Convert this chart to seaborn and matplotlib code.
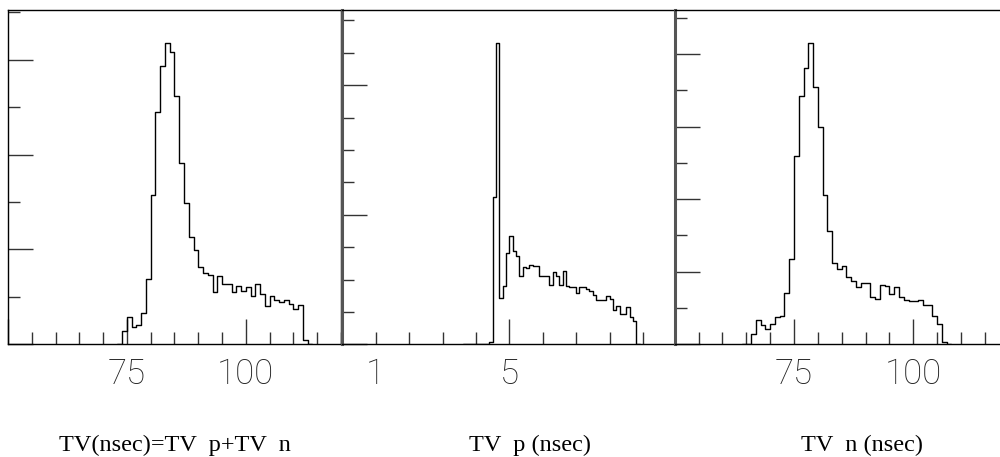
import numpy as np
import pandas as pd
import matplotlib
matplotlib.use("Agg")
import matplotlib.pyplot as plt
import seaborn as sns
from matplotlib.ticker import MultipleLocator, FixedLocator, FixedFormatter

# ---------------- data ----------------
# Panel 1: TV = TV_p + TV_n (nsec), 1 ns bins starting at 74
tv_first_bin = 74.0
tv_bin_width = 1.0
tv_counts = [27, 58, 36, 41, 67, 138, 314, 489, 586, 636, 617, 523, 382, 297,
             226, 199, 162, 151, 147, 110, 143, 127, 128, 110, 122, 113, 120,
             102, 127, 106, 81, 101, 94, 89, 94, 85, 74, 82, 9]

# Panel 2: TV_p (nsec), 0.1 ns bins starting at 3.7
tvp_first_bin = 3.7
tvp_bin_width = 0.1
tvp_counts = [2, 0, 0, 0, 0, 0, 2, 7, 456, 931, 144, 181, 281, 335, 289, 273,
              211, 240, 235, 245, 243, 242, 212, 212, 210, 183, 224, 212, 183,
              225, 181, 177, 177, 159, 177, 177, 172, 166, 152, 137, 137, 137,
              149, 139, 106, 119, 94, 94, 114, 83, 73]

# Panel 3: TV_n (nsec), 1 ns bins starting at 65
tvn_first_bin = 65.0
tvn_bin_width = 1.0
tvn_counts = [2, 29, 68, 53, 41, 55, 75, 77, 140, 235, 518, 683, 761, 830, 710,
              599, 412, 312, 225, 208, 217, 185, 175, 157, 170, 170, 130, 125,
              163, 161, 138, 159, 130, 121, 118, 118, 123, 107, 109, 79, 55, 6]

x_labels = ["TV(nsec)=TV  p+TV  n", "TV  p (nsec)", "TV  n (nsec)"]

panel_xlim = [(50, 120), (0, 10), (50, 120)]
panel_ylim = [(0, 705), (0, 1032), (0, 921)]
panel_xmajor = [[50, 75, 100], [0, 5, 10], [50, 75, 100]]
panel_xmajor_labels = [["", "75", "100"], ["", "5", ""], ["", "75", "100"]]
panel_xminor_step = [5, 1, 5]
panel_xminor_labels = [None, {1: "1"}, None]
panel_ymajor = [200, 400, 200]
panel_yminor = [100, 100, 100]

# ---------------- figure ----------------
sns.set_style("white")
W, H = 1000, 457
fig = plt.figure(figsize=(W / 100, H / 100), dpi=100)

bottom = 1 - 344.3 / H
top = 1 - 10 / H
positions = [(8, 341), (342.3, 676.3), (674.7, 1008.7)]
PX = 72 / 100  # points per pixel

data = [(tv_first_bin, tv_bin_width, tv_counts),
        (tvp_first_bin, tvp_bin_width, tvp_counts),
        (tvn_first_bin, tvn_bin_width, tvn_counts)]

for i, ((x0, x1), (start, width, counts)) in enumerate(zip(positions, data)):
    ax = fig.add_axes([x0 / W, bottom, (x1 - x0) / W, top - bottom])
    counts = np.asarray(counts, dtype=float)
    n = len(counts)
    edges = [float(v) for v in np.round(start + width * np.arange(-1, n + 2), 4)]
    centers = np.round(start + width * (np.arange(n) + 0.5), 4)
    df = pd.DataFrame({"t": centers, "w": counts})
    sns.histplot(data=df, x="t", weights="w", bins=edges, element="step",
                 fill=False, color="black", linewidth=1.0, ax=ax)
    ax.set_xlim(*panel_xlim[i])
    ax.set_ylim(*panel_ylim[i])
    ax.set_xlabel("")
    ax.set_ylabel("")

    # spines
    for side in ["top", "right", "left", "bottom"]:
        ax.spines[side].set_color("black")
        ax.spines[side].set_linewidth(1.0)
    ax.spines["right"].set_visible(i == 0)
    if i > 0:
        ax.spines["left"].set_linewidth(2.2)
        ax.spines["left"].set_color("#555555")

    # x ticks
    ax.xaxis.set_major_locator(FixedLocator(panel_xmajor[i]))
    ax.xaxis.set_major_formatter(FixedFormatter(panel_xmajor_labels[i]))
    lo, hi = panel_xlim[i]
    step = panel_xminor_step[i]
    minors = [float(v) for v in np.arange(lo, hi + 0.001, step) if v not in panel_xmajor[i]]
    ax.xaxis.set_minor_locator(FixedLocator(minors))
    if panel_xminor_labels[i]:
        lab = panel_xminor_labels[i]
        ax.xaxis.set_minor_formatter(FixedFormatter([lab.get(int(round(v)), "") for v in minors]))

    # y ticks
    ax.yaxis.set_major_locator(MultipleLocator(panel_ymajor[i]))
    ax.yaxis.set_minor_locator(MultipleLocator(panel_yminor[i]))

    ax.tick_params(axis="both", which="major", direction="in", length=25 * PX,
                   width=1.0, color="#333333", bottom=True, left=True,
                   top=False, right=False)
    ax.tick_params(axis="both", which="minor", direction="in", length=12 * PX,
                   width=1.0, color="#333333", bottom=True, left=True,
                   top=False, right=False)
    ax.tick_params(axis="y", which="both", labelleft=False)
    ax.tick_params(axis="x", which="both", pad=9.5, labelsize=25,
                   labelcolor="#222222")
    for lbl in ax.get_xticklabels(which="both"):
        lbl.set_fontfamily("Roboto")
        lbl.set_fontweight("light")

# bottom labels (serif)
label_centers = [175, 530, 862]
for txt, cx in zip(x_labels, label_centers):
    fig.text(cx / W, 1 - 451 / H, txt, ha="center", va="baseline",
             fontsize=17.5, family="Liberation Serif", color="black")

fig.savefig("out.png", dpi=100)
